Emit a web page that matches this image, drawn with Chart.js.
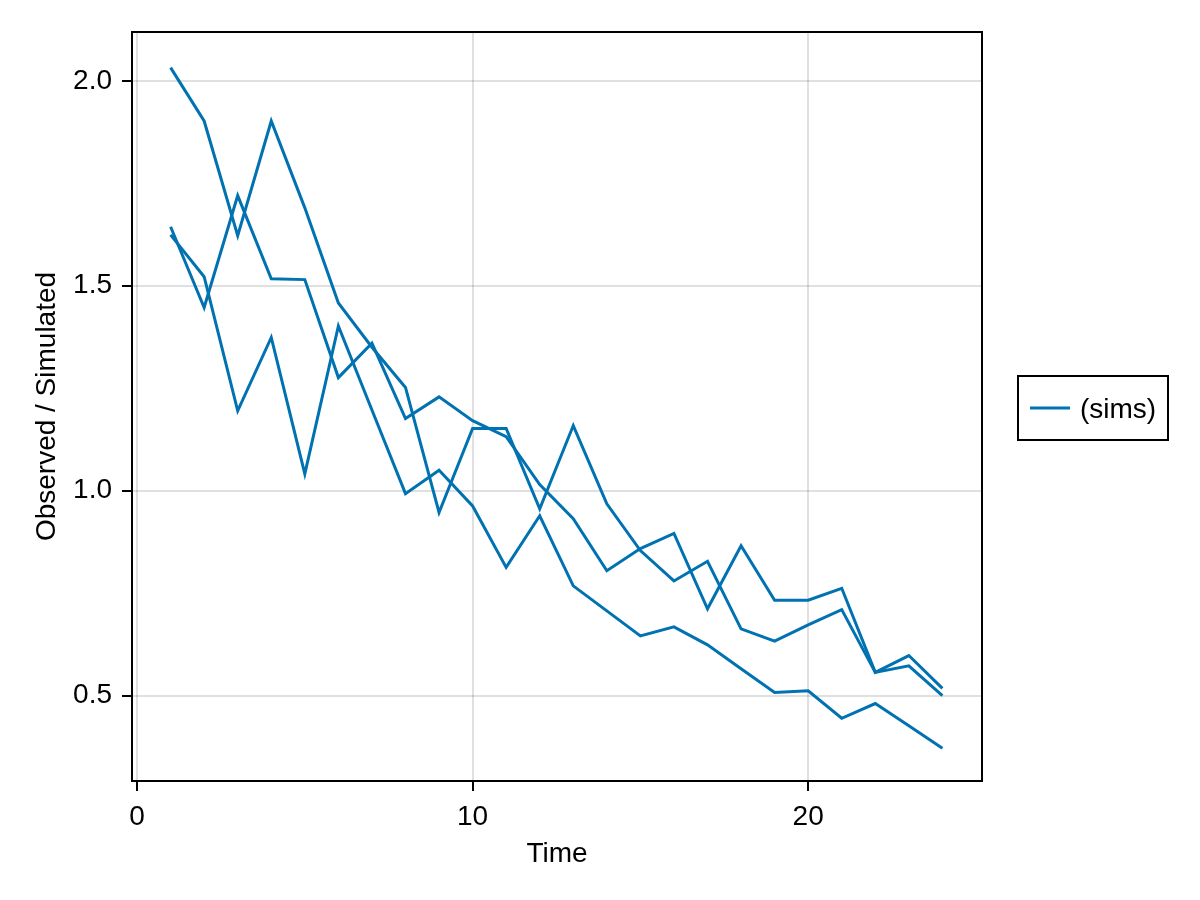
<!DOCTYPE html>
<html>
<head>
<meta charset="utf-8">
<title>Observed / Simulated</title>
<script src="https://cdn.jsdelivr.net/npm/chart.js@4.4.1/dist/chart.umd.min.js"></script>
<style>
  html, body { margin: 0; padding: 0; background: #fff; }
  canvas { display: block; }
</style>
</head>
<body>
<canvas id="simChart" width="1200" height="900"></canvas>
<script>
// values
const times = [1, 2, 3, 4, 5, 6, 7, 8, 9, 10, 11, 12, 13, 14, 15, 16, 17, 18, 19, 20, 21, 22, 23, 24];
const simA = [2.032, 1.902, 1.622, 1.902, 1.69, 1.458, 1.35, 1.252, 0.947, 1.152, 1.152, 0.956,
              1.159, 0.968, 0.854, 0.78, 0.828, 0.663, 0.633, 0.673, 0.71, 0.557, 0.573, 0.5];
const simB = [1.644, 1.447, 1.72, 1.517, 1.515, 1.276, 1.36, 1.176, 1.229, 1.171, 1.132, 1.015,
              0.932, 0.805, 0.859, 0.896, 0.712, 0.866, 0.733, 0.733, 0.762, 0.557, 0.598, 0.518];
const simC = [1.624, 1.522, 1.195, 1.374, 1.041, 1.402, 1.197, 0.993, 1.05, 0.963, 0.813, 0.939,
              0.768, 0.707, 0.646, 0.668, 0.624, 0.566, 0.508, 0.512, 0.445, 0.481, 0.427, 0.372];
const xTicks = [0, 10, 20];
const yTicks = [0.5, 1.0, 1.5, 2.0];
const seriesLabel = '(sims)';

const lineColor = '#0072B2';
const fontFamily = '"Liberation Sans", Arial, sans-serif';

const toPoints = vals => vals.map((v, i) => ({ x: times[i], y: v }));

const makeSet = vals => ({
  label: seriesLabel,
  data: toPoints(vals),
  borderColor: lineColor,
  backgroundColor: lineColor,
  borderWidth: 3,
  pointRadius: 0,
  tension: 0,
  fill: false
});

// black frame round the plot area + boxed legend on the right
const framePlugin = {
  id: 'frameAndLegend',
  afterDraw(chart) {
    const { ctx, chartArea: a } = chart;
    ctx.save();
    ctx.strokeStyle = '#000';
    ctx.lineWidth = 2;
    ctx.strokeRect(a.left, a.top, a.right - a.left, a.bottom - a.top);

    // legend
    const ds = chart.data.datasets[0];
    const bx = 1018, by = 376, bw = 150, bh = 64;
    ctx.strokeRect(bx, by, bw, bh);
    const my = by + bh / 2;
    ctx.strokeStyle = ds.borderColor;
    ctx.lineWidth = 3;
    ctx.beginPath();
    ctx.moveTo(bx + 12, my);
    ctx.lineTo(bx + 52, my);
    ctx.stroke();
    ctx.fillStyle = '#000';
    ctx.font = '28px ' + fontFamily;
    ctx.textBaseline = 'middle';
    ctx.textAlign = 'left';
    ctx.fillText(ds.label, bx + 62, my + 2);
    ctx.restore();
  }
};

new Chart(document.getElementById('simChart'), {
  type: 'line',
  data: {
    datasets: [makeSet(simA), makeSet(simB), makeSet(simC)]
  },
  options: {
    responsive: false,
    animation: false,
    devicePixelRatio: 1,
    layout: { padding: { top: 32, right: 218, bottom: 0, left: 0 } },
    plugins: {
      legend: { display: false },
      tooltip: { enabled: false }
    },
    scales: {
      x: {
        type: 'linear',
        min: -0.15,
        max: 25.18,
        afterFit(scale) { scale.height = 119; },
        afterBuildTicks(scale) { scale.ticks = xTicks.map(v => ({ value: v })); },
        ticks: {
          color: '#000',
          font: { family: fontFamily, size: 28 },
          padding: 9,
          maxRotation: 0
        },
        grid: {
          color: 'rgba(0,0,0,0.12)',
          lineWidth: 2,
          tickColor: '#000',
          tickWidth: 2,
          tickLength: 10
        },
        border: { display: false },
        title: {
          display: true,
          text: 'Time',
          color: '#000',
          font: { family: fontFamily, size: 28 },
          padding: { top: 0, bottom: 29 }
        }
      },
      y: {
        type: 'linear',
        min: 0.292,
        max: 2.119,
        afterFit(scale) { scale.width = 132; },
        afterBuildTicks(scale) { scale.ticks = yTicks.map(v => ({ value: v })); },
        ticks: {
          color: '#000',
          font: { family: fontFamily, size: 28 },
          padding: 10,
          callback: v => v.toFixed(1)
        },
        grid: {
          color: 'rgba(0,0,0,0.12)',
          lineWidth: 2,
          tickColor: '#000',
          tickWidth: 2,
          tickLength: 10
        },
        border: { display: false },
        title: {
          display: true,
          text: 'Observed / Simulated',
          color: '#000',
          font: { family: fontFamily, size: 28 },
          padding: { top: 30, bottom: 0 }
        }
      }
    }
  },
  plugins: [framePlugin]
});
</script>
</body>
</html>
